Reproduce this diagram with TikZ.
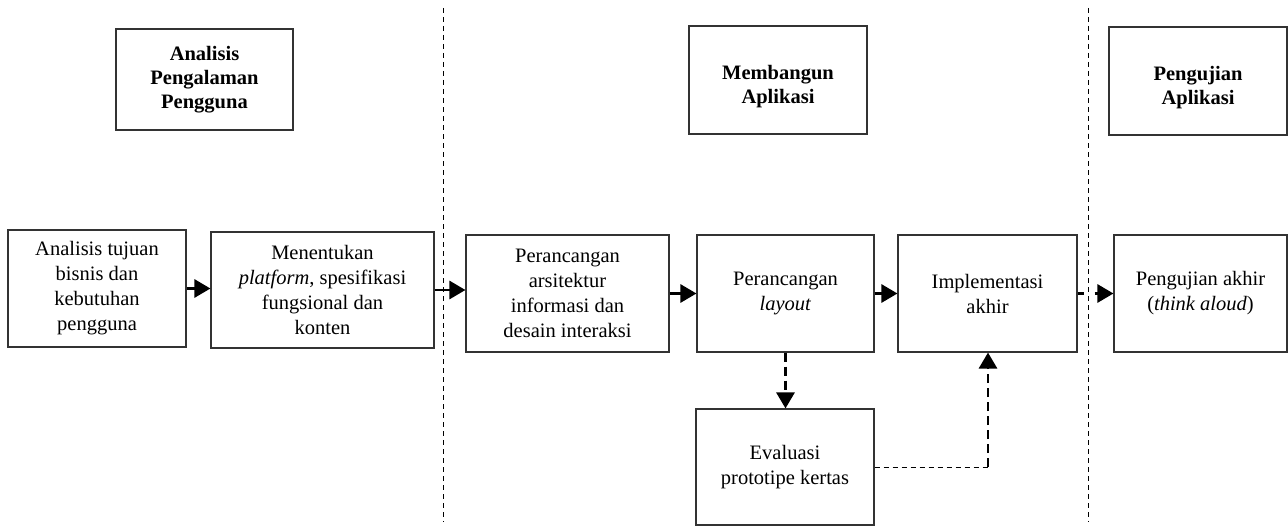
\documentclass[tikz,border=0pt]{standalone}
\usepackage{fontspec}
\setmainfont{Liberation Serif}
\usetikzlibrary{arrows.meta}
\begin{document}
\begin{tikzpicture}[x=1pt,y=-1pt,
  box/.style={draw=black!80,line width=1.1pt,inner sep=0pt,align=center,
    font=\fontsize{20.5}{25}\selectfont},
  hbox/.style={box,font=\fontsize{20.5}{24}\selectfont\bfseries},
  htext/.style={inner sep=0pt,align=center,font=\fontsize{20.5}{24}\selectfont\bfseries},
  arr/.style={line width=2.8pt,-{Triangle[length=16pt,width=18pt]}},
  darr/.style={arr,dash pattern=on 9pt off 5pt},
  sep/.style={line width=0.9pt,dash pattern=on 5pt off 4pt}]
\useasboundingbox (0,0) rectangle (1288,527);
% separators
\coordinate (s1t) at (443,8); \coordinate (s1b) at (443,522);
\coordinate (s2t) at (1088,8); \coordinate (s2b) at (1088,522);
\draw[sep] (s1t) -- (s1b);
\draw[sep] (s2t) -- (s2b);
% headers
\node[hbox,minimum width=177pt,minimum height=101pt] (h1) at (204.5,79.5) {Analisis\\Pengalaman\\Pengguna};
\node[hbox,minimum width=178pt,minimum height=108pt] (h2) at (778,80) {};
\node[htext] (h2t) at (778,87) {Membangun\\Aplikasi};
\node[hbox,minimum width=178pt,minimum height=108pt] (h3) at (1198,81) {};
\node[htext] (h3t) at (1198,88) {Pengujian\\Aplikasi};
% process boxes
\node[box,minimum width=178pt,minimum height=117pt] (b1) at (97,288.5) {Analisis tujuan\\bisnis dan\\kebutuhan\\pengguna};
\node[box,minimum width=223pt,minimum height=116pt] (b2) at (322.5,290) {Menentukan\\\textit{platform}, spesifikasi\\fungsional dan\\konten};
\node[box,minimum width=203pt,minimum height=117pt] (b3) at (567.5,293.5) {Perancangan\\arsitektur\\informasi dan\\desain interaksi};
\node[box,minimum width=177pt,minimum height=117pt] (b4) at (785.5,293.5) {Perancangan\\\textit{layout}};
\node[box,minimum width=179pt,minimum height=117pt] (b5) at (987.5,293.5) {Implementasi\\akhir};
\node[box,minimum width=173pt,minimum height=117pt] (b6) at (1200.5,293.5) {Pengujian akhir\\(\textit{think aloud})};
\node[box,minimum width=178pt,minimum height=116pt] (b7) at (785,467) {Evaluasi\\prototipe kertas};
% arrows
\draw[arr] (b1.east) -- (b1.east -| b2.west);
\draw[arr] (b2.east) -- (b2.east -| b3.west);
\draw[arr] (b3.east) -- (b3.east -| b4.west);
\draw[arr] (b4.east) -- (b4.east -| b5.west);
\draw[arr,dash pattern=on 6pt off 11pt] (b5.east) -- (b5.east -| b6.west);
\draw[darr] (b4.south) -- (b4.south |- b7.north);
\coordinate (c1) at (988,467);
\draw[line width=0.9pt,dash pattern=on 5pt off 4pt] (b7.east) -- (c1);
\draw[darr] (c1) -- (c1 |- b5.south);
\end{tikzpicture}
\end{document}
